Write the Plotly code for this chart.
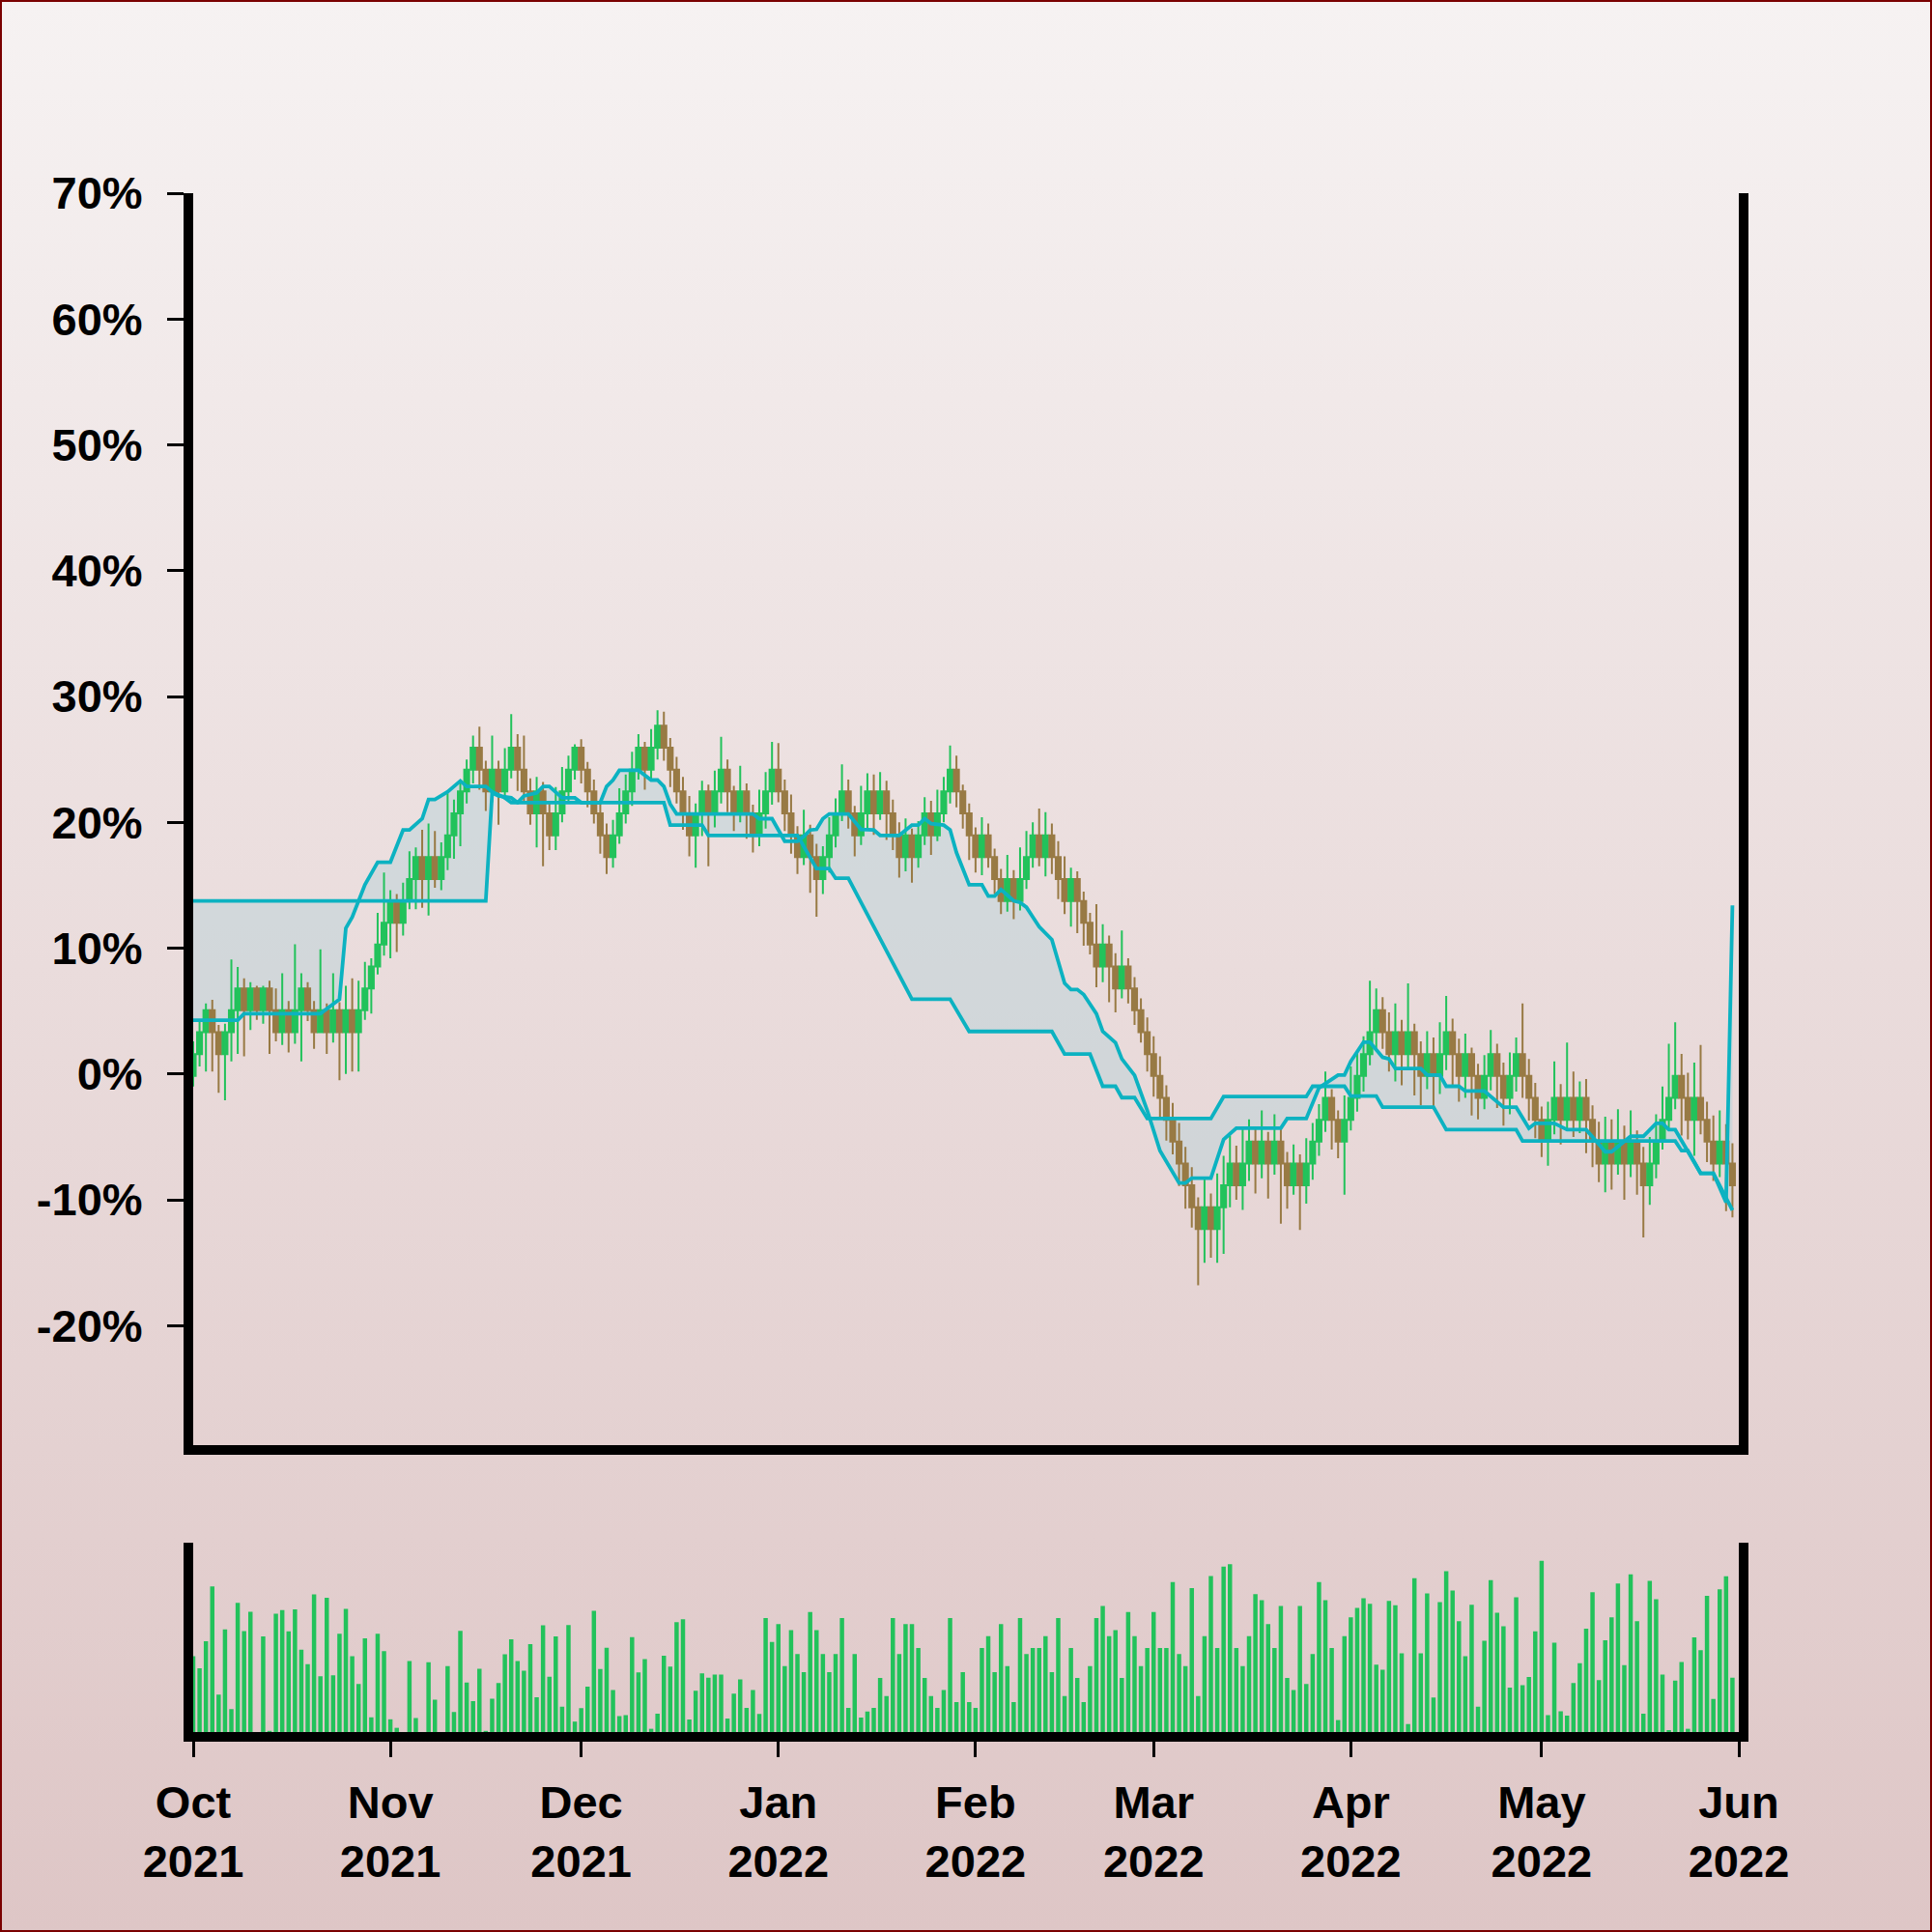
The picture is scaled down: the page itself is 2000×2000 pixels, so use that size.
import base64
import pandas as pd
import plotly.graph_objects as go

# ---------------- data ----------------
start_date = "2021-10-01"
first_open = -0.16

close = [
    1.58, 3.32, 5.06, 3.32, 1.58, 3.32, 5.06, 6.80, 5.06, 6.80,
    5.06, 6.80, 5.06, 3.32, 5.06, 3.32, 5.06, 6.80, 5.06, 3.32,
    5.06, 3.32, 5.06, 3.32, 5.06, 3.32, 5.06, 6.80, 8.54, 10.28,
    12.01, 13.75, 12.01, 13.75, 15.49, 17.23, 15.49, 17.23, 15.49, 17.23,
    18.97, 20.71, 22.45, 24.19, 25.93, 24.19, 22.45, 24.19, 22.45, 24.19,
    25.93, 24.19, 22.45, 20.71, 22.45, 20.71, 18.97, 20.71, 22.45, 24.19,
    25.93, 24.19, 22.45, 20.71, 18.97, 17.23, 18.97, 20.71, 22.45, 24.19,
    25.93, 24.19, 25.93, 27.67, 25.93, 24.19, 22.45, 20.71, 18.97, 20.71,
    22.45, 20.71, 22.45, 24.19, 22.45, 20.71, 22.45, 20.71, 18.97, 20.71,
    22.45, 24.19, 22.45, 20.71, 18.97, 17.23, 18.97, 17.23, 15.49, 17.23,
    18.97, 20.71, 22.45, 20.71, 18.97, 20.71, 22.45, 20.71, 22.45, 20.71,
    18.97, 17.23, 18.97, 17.23, 18.97, 20.71, 18.97, 20.71, 22.45, 24.19,
    22.45, 20.71, 18.97, 17.23, 18.97, 17.23, 15.49, 13.75, 15.49, 13.75,
    15.49, 17.23, 18.97, 17.23, 18.97, 17.23, 15.49, 13.75, 15.49, 13.75,
    12.01, 10.28, 8.54, 10.28, 8.54, 6.80, 8.54, 6.80, 5.06, 3.32,
    1.58, -0.16, -1.90, -3.64, -5.38, -7.12, -8.85, -10.59, -12.33, -10.59,
    -12.33, -10.59, -8.85, -7.12, -8.85, -7.12, -5.38, -7.12, -5.38, -7.12,
    -5.38, -7.12, -8.85, -7.12, -8.85, -7.12, -5.38, -3.64, -1.90, -3.64,
    -5.38, -3.64, -1.90, -0.16, 1.58, 3.32, 5.06, 3.32, 1.58, 3.32,
    1.58, 3.32, 1.58, -0.16, 1.58, -0.16, 1.58, 3.32, 1.58, -0.16,
    1.58, -0.16, -1.90, -0.16, 1.58, -0.16, -1.90, -0.16, 1.58, -0.16,
    -1.90, -3.64, -5.38, -3.64, -1.90, -3.64, -1.90, -3.64, -1.90, -3.64,
    -5.38, -7.12, -5.38, -7.12, -5.38, -7.12, -5.38, -7.12, -8.85, -7.12,
    -5.38, -3.64, -1.90, -0.16, -1.90, -3.64, -1.90, -3.64, -5.38, -7.12,
    -5.38, -7.12, -8.85,
]

high = [
    2.6, 4.3, 5.6, 5.9, 3.9, 4.0, 9.1, 8.5, 7.6, 7.3,
    7.0, 7.0, 7.4, 6.8, 8.0, 5.8, 10.3, 8.0, 7.3, 5.8,
    9.9, 5.6, 8.0, 5.7, 7.0, 7.6, 7.4, 8.9, 9.2, 12.8,
    16.0, 14.6, 14.3, 15.2, 17.7, 18.0, 19.4, 19.9, 19.3, 18.4,
    22.3, 21.8, 23.2, 25.0, 26.9, 27.6, 24.9, 26.9, 24.9, 25.9,
    28.6, 27.0, 26.9, 23.5, 23.6, 23.2, 21.5, 22.8, 24.4, 25.3,
    26.2, 26.6, 24.8, 23.4, 21.6, 19.9, 20.2, 22.7, 23.8, 25.6,
    27.0, 26.4, 27.4, 28.9, 28.8, 26.7, 25.2, 23.6, 22.1, 21.5,
    23.3, 23.0, 24.1, 26.8, 25.0, 22.9, 24.5, 23.1, 21.4, 22.6,
    24.0, 26.4, 26.3, 23.4, 22.2, 19.7, 21.0, 19.8, 18.3, 18.1,
    20.4, 21.9, 24.6, 23.4, 21.3, 22.9, 23.9, 23.8, 24.0, 23.3,
    21.8, 20.0, 20.3, 19.5, 20.1, 22.0, 21.7, 22.6, 23.6, 26.1,
    25.3, 23.0, 21.5, 19.6, 20.4, 19.9, 17.9, 16.3, 17.4, 16.2,
    18.0, 19.3, 20.0, 21.1, 20.8, 19.9, 18.5, 17.3, 16.4, 16.1,
    14.5, 12.8, 13.5, 11.9, 11.0, 9.6, 11.4, 9.2, 7.7, 6.0,
    4.5, 3.0, 1.4, -0.9, -2.3, -3.9, -5.8, -7.4, -9.8, -8.3,
    -9.5, -7.9, -6.5, -4.9, -5.7, -4.3, -3.6, -4.2, -2.9, -4.6,
    -3.2, -4.4, -6.2, -5.6, -6.4, -5.1, -3.9, -2.4, 0.2, -1.2,
    -2.9, -1.7, 0.6, 1.8, 3.0, 7.4, 6.8, 6.1, 4.9, 5.6,
    4.3, 7.2, 4.0, 2.6, 3.4, 2.9, 4.1, 6.2, 4.4, 2.8,
    3.2, 2.1, 0.8, 1.5, 3.5, 2.4, 0.9, 1.7, 2.9, 5.6,
    1.2, -0.7, -2.6, -2.2, 1.0, -0.8, 2.5, 0.2, -0.6, -0.4,
    -2.5, -3.8, -3.4, -3.6, -2.8, -4.1, -2.9, -4.5, -5.8, -5.0,
    -3.2, -1.0, 2.4, 4.1, 1.6, 0.1, 0.9, 2.3, -2.2, -3.3,
    -2.9, -4.0, -5.5,
]

low = [
    -1.0, 0.6, 0.2, 0.2, -1.5, -2.1, 1.0, 1.6, 1.4, 3.5,
    4.3, 4.0, 1.6, 2.6, 2.3, 1.7, 2.4, 1.0, 4.2, 2.0,
    3.5, 1.6, 2.5, -0.5, 0.0, 0.2, 0.2, 4.3, 4.8, 7.9,
    9.4, 9.2, 9.7, 11.0, 13.1, 13.1, 13.2, 12.6, 14.8, 14.6,
    16.2, 17.1, 18.1, 21.5, 23.1, 22.6, 20.9, 21.6, 19.8, 21.8,
    23.5, 22.5, 21.7, 19.8, 18.0, 16.5, 17.8, 17.8, 20.0, 21.6,
    23.4, 23.1, 21.2, 19.9, 17.5, 15.9, 16.4, 18.3, 19.9, 21.3,
    23.4, 22.6, 23.3, 25.0, 24.9, 22.8, 21.5, 19.4, 17.3, 16.4,
    18.9, 16.5, 19.6, 21.5, 20.8, 19.3, 20.0, 18.7, 17.6, 18.1,
    19.5, 21.4, 21.6, 19.3, 17.5, 15.9, 16.6, 14.4, 12.5, 14.3,
    16.0, 18.0, 20.1, 19.5, 17.3, 18.2, 19.4, 19.0, 20.2, 18.6,
    17.8, 15.6, 16.1, 15.2, 16.4, 18.2, 17.4, 18.5, 20.0, 21.5,
    21.2, 19.5, 17.0, 16.0, 15.8, 16.4, 14.3, 12.7, 12.9, 12.3,
    13.0, 14.7, 16.4, 16.5, 15.7, 15.9, 13.9, 12.7, 11.7, 11.2,
    10.2, 9.5, 6.9, 7.3, 5.7, 4.9, 6.0, 5.6, 3.9, 2.5,
    0.2, -1.8, -3.4, -5.3, -6.4, -8.9, -10.7, -12.2, -16.8, -15.0,
    -14.6, -15.0, -14.3, -10.6, -10.0, -10.8, -8.5, -9.5, -8.3, -9.9,
    -8.0, -11.9, -10.7, -9.6, -12.4, -10.3, -8.4, -6.5, -4.6, -6.0,
    -6.7, -9.6, -4.5, -3.0, -1.4, 0.7, 1.9, 2.0, 0.2, -0.6,
    -0.9, 0.5, -1.7, -2.5, -1.2, -2.8, -1.6, 0.3, -0.9, -2.2,
    -1.9, -3.3, -3.6, -2.8, -1.3, -2.7, -4.1, -3.2, -1.4, -1.9,
    -3.7, -5.1, -6.6, -7.3, -4.8, -5.6, -4.4, -5.0, -4.7, -6.3,
    -7.4, -8.6, -9.4, -9.2, -8.0, -10.0, -8.2, -9.6, -13.0, -10.4,
    -8.3, -6.0, -4.5, -2.8, -4.9, -5.2, -6.5, -4.8, -7.0, -8.5,
    -8.2, -10.9, -11.4,
]

volume = [
    40.0,
    33.6, 47.9, 76.8, 19.7, 54.1, 12.1, 68.2, 53.3, 63.4, 0.0,
    50.4, 0.5, 62.4, 64.4, 53.1, 64.7, 43.4, 35.8, 72.6,
    29.4, 70.8, 29.9, 51.8, 65.0, 40.0, 25.4, 49.4, 7.7,
    51.9, 42.7, 6.7, 2.2, 0.0, 37.5, 7.4, 0.0, 36.8,
    17.1, 0.0, 34.8, 10.6, 53.4, 26.1, 16.3, 33.4, 0.5,
    17.6, 25.9, 41.0, 48.9, 37.5, 32.4, 46.4, 18.3, 56.3,
    29.2, 50.4, 13.4, 56.5, 5.5, 12.6, 23.9, 64.0, 33.3,
    44.4, 22.2, 8.4, 8.9, 50.1, 31.4, 38.5, 1.7, 9.7,
    40.3, 34.5, 58.0, 59.5, 6.6, 21.8, 30.9, 28.6, 30.3,
    30.3, 7.1, 20.2, 27.7,
    12.7, 22.2, 9.5, 60.1, 47.5, 57.0, 34.8, 53.8, 41.1, 31.6,
    63.3, 53.8, 41.1, 31.6, 41.1, 60.1, 12.7, 41.1, 7.6, 10.8,
    12.7, 28.5, 19.0, 60.1, 41.1, 57.0, 57.0, 44.3, 28.5, 19.0,
    12.7, 22.2, 60.1, 15.8, 31.6, 15.8, 12.7, 44.3, 50.6, 31.6,
    57.0, 34.8, 15.8, 60.1, 41.1, 44.3, 44.3, 50.6, 31.6, 60.1,
    19.0, 44.3, 28.5, 15.8, 34.8, 60.1, 66.5, 50.6, 53.8, 28.5,
    63.3, 50.6, 34.8, 44.3, 63.3, 44.3, 44.3, 79.1, 41.1, 34.8,
    75.9, 19.0, 50.6, 82.3, 44.3, 87.3, 88.6, 44.3, 34.8, 50.6,
    72.8, 69.6, 57.0, 44.3, 66.5, 28.5, 22.2, 66.5, 25.3, 41.1,
    79.1, 69.6, 44.3, 6.3, 50.6,
    60.5, 65.5, 70.6, 67.7, 35.6, 32.9, 69.2, 66.9, 41.5, 4.2,
    81.2, 41.5, 73.1, 18.2, 68.6, 84.9, 74.6, 58.5, 40.0, 67.1,
    13.3, 48.1, 80.2, 63.0, 55.8, 23.4, 71.1, 24.7, 29.1, 53.1,
    90.4,
    8.9, 47.1, 10.9, 8.6, 25.9, 36.3, 54.5, 73.8, 27.4, 48.4,
    60.5, 78.3, 35.3, 83.2, 58.5, 9.7, 79.8, 70.1, 30.3, 1.0,
    27.1, 37.0, 1.7, 49.9, 43.2, 71.9, 17.5, 75.3, 82.2, 28.7,
]

# cloud lines: (day index, value %)
span_a_points = [
    (0, 4.27), (7, 4.27), (8, 4.79), (20, 4.79), (23, 5.94), (24, 11.58),
    (25, 12.47), (26, 13.76), (27, 15.04), (29, 16.83), (31, 16.83), (33, 19.39),
    (34, 19.39), (36, 20.29), (37, 21.82), (38, 21.82), (40, 22.42), (42, 23.29),
    (43, 22.85), (46, 22.85), (47, 22.42), (49, 21.95), (50, 21.57), (51, 21.57),
    (52, 22.10), (54, 22.34), (55, 22.85), (56, 22.85), (58, 21.95), (60, 21.95),
    (61, 21.57), (64, 21.57), (65, 22.85), (66, 23.36), (67, 24.13), (70, 24.13),
    (72, 23.36), (73, 23.36), (74, 22.85), (75, 21.44), (76, 20.67), (88, 20.67),
    (89, 20.29), (91, 20.29), (93, 18.50), (95, 18.50), (96, 18.88), (97, 19.39),
    (98, 19.44), (99, 20.29), (100, 20.67), (103, 20.67), (105, 19.44), (107, 19.39),
    (108, 18.96), (111, 18.96), (113, 19.78), (114, 19.78), (115, 20.29), (116, 19.90),
    (118, 19.78), (119, 19.40), (120, 17.60), (122, 15.04), (124, 15.04), (125, 14.14),
    (126, 14.14), (127, 14.65), (129, 13.76), (130, 13.63), (131, 13.25), (132, 12.47),
    (133, 11.71), (135, 10.68), (137, 7.22), (138, 6.71), (139, 6.71), (140, 6.32),
    (142, 4.79), (143, 3.38), (145, 2.49), (146, 1.20), (148, -0.10), (150, -2.90),
    (152, -6.10), (155, -8.67), (156, -8.67), (157, -8.28), (160, -8.28), (162, -5.21),
    (164, -4.31), (171, -4.31), (172, -3.54), (175, -3.54), (177, -1.10), (180, -0.08),
    (181, -0.08), (182, 1.00), (184, 2.53), (185, 2.53), (187, 1.33), (188, 1.20),
    (189, 0.43), (193, 0.43), (194, -0.08), (196, -0.08), (197, -0.98), (199, -0.98),
    (200, -1.36), (203, -1.36), (206, -2.64), (208, -2.64), (210, -4.31), (211, -3.92),
    (214, -3.92), (216, -4.43), (219, -4.43), (221, -5.59), (222, -6.18), (223, -6.18),
    (225, -5.33), (226, -4.95), (228, -4.95), (230, -3.92), (231, -3.92), (232, -4.43),
    (233, -4.43), (235, -6.10), (237, -7.89), (239, -7.89), (242, -10.84),
]

span_b_points = [
    (0, 13.76), (46, 13.76), (47, 22.34), (48, 22.10), (50, 21.95), (51, 21.57),
    (74, 21.57), (75, 19.78), (80, 19.78), (81, 18.96), (95, 18.96), (98, 16.32),
    (100, 16.32), (101, 15.55), (103, 15.55), (113, 5.94), (119, 5.94), (122, 3.38),
    (135, 3.38), (137, 1.58), (141, 1.58), (143, -0.98), (145, -0.98), (146, -1.88),
    (148, -1.88), (150, -3.54), (160, -3.54), (162, -1.80), (175, -1.80), (176, -0.98),
    (181, -0.98), (182, -1.75), (186, -1.75), (187, -2.64), (195, -2.64), (197, -4.43),
    (208, -4.43), (209, -5.33), (233, -5.33), (234, -6.10), (235, -6.10), (237, -7.89),
    (239, -7.89), (241, -10.20), (242, 13.40),
]

y_ticks = [-20, -10, 0, 10, 20, 30, 40, 50, 60, 70]
month_ticks = ["2021-10-01", "2021-11-01", "2021-12-01", "2022-01-01", "2022-02-01",
               "2022-03-01", "2022-04-01", "2022-05-01", "2022-06-01"]
month_labels = ["Oct<br>2021", "Nov<br>2021", "Dec<br>2021", "Jan<br>2022", "Feb<br>2022",
                "Mar<br>2022", "Apr<br>2022", "May<br>2022", "Jun<br>2022"]

# ---------------- styling ----------------
GREEN = "#22c25b"
BROWN = "#987a44"
TEAL = "#0cb2c1"
FILL = "rgba(190,211,217,0.55)"
FONT = dict(family="Liberation Sans, Arial, sans-serif", size=47, color="black", weight="bold")
AXW = 10
Y_RANGE = [-29.5, 70]

dates = pd.date_range(start_date, periods=len(close), freq="D")
opens = [first_open] + close[:-1]

a_x = dates[[p[0] for p in span_a_points]]
a_y = [p[1] for p in span_a_points]
b_x = dates[[p[0] for p in span_b_points]]
b_y = [p[1] for p in span_b_points]

fig = go.Figure()
# cloud fill (base subplot, drawn beneath candles)
fig.add_trace(go.Scatter(x=a_x, y=a_y, mode="lines", line=dict(width=0, color=TEAL),
                         xaxis="x", yaxis="y", showlegend=False, hoverinfo="skip"))
fig.add_trace(go.Scatter(x=b_x, y=b_y, mode="lines", line=dict(width=0, color=TEAL),
                         fill="tonexty", fillcolor=FILL,
                         xaxis="x", yaxis="y", showlegend=False, hoverinfo="skip"))
# candles + cloud outlines (overlay subplot, drawn above the fill)
fig.add_trace(go.Candlestick(
    x=dates, open=opens, high=high, low=low, close=close,
    increasing=dict(line=dict(color=GREEN, width=2), fillcolor=GREEN),
    decreasing=dict(line=dict(color=BROWN, width=2), fillcolor=BROWN),
    xaxis="x", yaxis="y3", showlegend=False, hoverinfo="skip",
))
fig.add_trace(go.Scatter(x=a_x, y=a_y, mode="lines", line=dict(color=TEAL, width=3.8),
                         xaxis="x", yaxis="y3", showlegend=False, hoverinfo="skip"))
fig.add_trace(go.Scatter(x=b_x, y=b_y, mode="lines", line=dict(color=TEAL, width=3.8),
                         xaxis="x", yaxis="y3", showlegend=False, hoverinfo="skip"))
fig.add_trace(go.Bar(x=dates, y=volume, marker=dict(color=GREEN, line=dict(width=0)),
                     xaxis="x2", yaxis="y2", showlegend=False, hoverinfo="skip"))

svg = (
    '<svg xmlns="http://www.w3.org/2000/svg" width="2000" height="2000" '
    'viewBox="0 0 2000 2000" preserveAspectRatio="none">'
    '<defs><linearGradient id="g" x1="0" y1="0" x2="0" y2="1">'
    '<stop offset="0" stop-color="#f6f2f2"/><stop offset="1" stop-color="#dec6c6"/>'
    '</linearGradient></defs>'
    '<rect width="2000" height="2000" fill="url(#g)"/>'
    '<rect x="1" y="1" width="1998" height="1998" fill="none" stroke="#7a0000" stroke-width="2"/>'
    '</svg>'
)
bg_src = "data:image/svg+xml;base64," + base64.b64encode(svg.encode()).decode()

x_range = [month_ticks[0], month_ticks[-1]]
fig.update_layout(
    width=2000, height=2000,
    margin=dict(l=200, r=200, t=200, b=200),
    paper_bgcolor="#ebdede", plot_bgcolor="rgba(0,0,0,0)",
    showlegend=False, bargap=0.32, boxgap=0.12, boxgroupgap=0.12,
    images=[dict(source=bg_src, xref="paper", yref="paper", x=-0.125, y=1.125,
                 sizex=1.25, sizey=1.25, xanchor="left", yanchor="top",
                 sizing="stretch", layer="below")],
    xaxis=dict(domain=[0, 1], anchor="y", type="date", range=x_range,
               showline=True, linecolor="black", linewidth=AXW,
               ticks="", showticklabels=False, showgrid=False, zeroline=False,
               rangeslider=dict(visible=False)),
    yaxis=dict(domain=[0.19, 1.0], anchor="x", range=Y_RANGE,
               tickvals=y_ticks, ticktext=[f"{v}%" for v in y_ticks],
               ticks="outside", ticklen=17, tickwidth=3, tickcolor="black",
               showline=True, mirror=True, linecolor="black", linewidth=AXW,
               showgrid=False, zeroline=False, tickfont=FONT, ticklabelstandoff=16),
    yaxis3=dict(overlaying="y", anchor="x", range=Y_RANGE, visible=False,
                showgrid=False, zeroline=False),
    xaxis2=dict(domain=[0, 1], anchor="y2", type="date", range=x_range, matches="x",
                showline=True, linecolor="black", linewidth=AXW,
                ticks="outside", ticklen=16, tickwidth=3, tickcolor="black",
                tickvals=month_ticks, ticktext=month_labels, tickfont=FONT,
                ticklabelstandoff=7,
                showgrid=False, zeroline=False, rangeslider=dict(visible=False)),
    yaxis2=dict(domain=[0.0044, 0.127], anchor="x2", range=[0, 100],
                showline=True, mirror=True, linecolor="black", linewidth=AXW,
                ticks="", showticklabels=False, showgrid=False, zeroline=False),
)

fig.write_html("out.html", config={"displayModeBar": False},
               post_script="document.body.style.margin='0';")
